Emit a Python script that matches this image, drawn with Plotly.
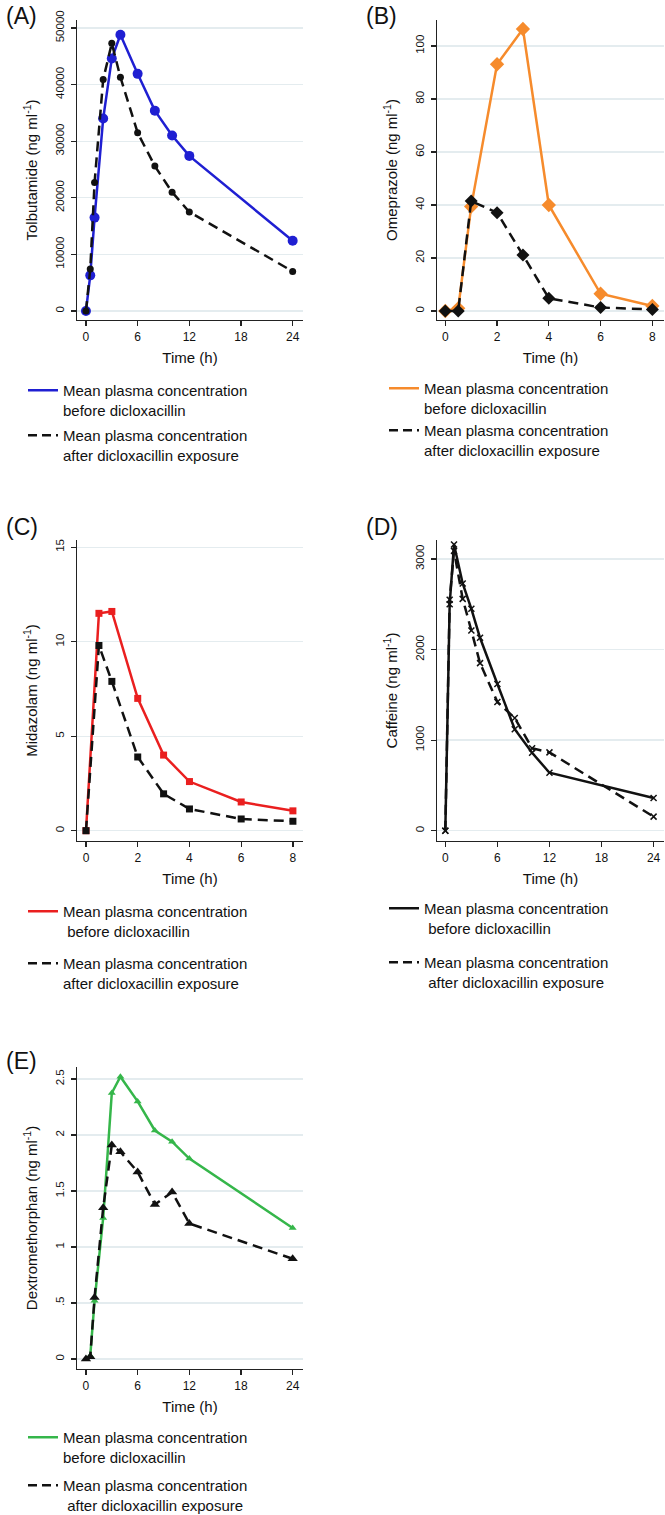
import plotly.graph_objects as go

W, H = 665, 1515

# ---------------- data ----------------
t_A = [0, 0.5, 1, 2, 3, 4, 6, 8, 10, 12, 24]
tolb_before = [0, 6300, 16500, 34000, 44600, 48800, 41900, 35400, 31000, 27400, 12400]
tolb_after = [0, 7400, 22700, 40900, 47300, 41300, 31500, 25600, 21000, 17500, 7000]

t_B = [0, 0.5, 1, 2, 3, 4, 6, 8]
omep_before = [0, 1.0, 39.4, 93.1, 106.4, 40.0, 6.5, 1.9]
omep_after = [0, 0, 41.5, 37.1, 21.1, 4.8, 1.3, 0.6]

t_C = [0, 0.5, 1, 2, 3, 4, 6, 8]
mida_before = [0, 11.5, 11.6, 7.0, 4.0, 2.6, 1.52, 1.05]
mida_after = [0, 9.8, 7.9, 3.9, 1.95, 1.15, 0.62, 0.5]

t_D = [0, 0.5, 1, 2, 3, 4, 6, 8, 10, 12, 24]
caff_before = [0, 2500, 3160, 2730, 2450, 2130, 1620, 1120, 860, 640, 360]
caff_after = [0, 2550, 3090, 2560, 2210, 1850, 1420, 1245, 910, 865, 155]

t_E = [0, 0.5, 1, 2, 3, 4, 6, 8, 10, 12, 24]
dextro_before = [0, 0.03, 0.52, 1.26, 2.375, 2.52, 2.30, 2.04, 1.94, 1.79, 1.17]
dextro_after = [0, 0.02, 0.55, 1.35, 1.91, 1.85, 1.67, 1.38, 1.49, 1.21, 0.895]

ticks_x_24 = [0, 6, 12, 18, 24]
ticks_x_8 = [0, 2, 4, 6, 8]
ticks_y_A = [0, 10000, 20000, 30000, 40000, 50000]
ticktext_y_A = ["0", "10000", "20000", "30000", "40000", "50000"]
ticks_y_B = [0, 20, 40, 60, 80, 100]
ticktext_y_B = ["0", "20", "40", "60", "80", "100"]
ticks_y_C = [0, 5, 10, 15]
ticktext_y_C = ["0", "5", "10", "15"]
ticks_y_D = [0, 1000, 2000, 3000]
ticktext_y_D = ["0", "1000", "2000", "3000"]
ticks_y_E = [0, 0.5, 1, 1.5, 2, 2.5]
ticktext_y_E = ["0", ".5", "1", "1.5", "2", "2.5"]

NBSP = "\u00a0"
FONT = "Liberation Sans, Arial, Helvetica, sans-serif"
DASH = "10px,6px"
INK = "#111111"


def dom_x(a, b):
    return [a / W, b / W]


def dom_y(top, bottom):
    return [1 - bottom / H, 1 - top / H]


panels = [
    dict(label="(A)", lab_xy=(4, 1), t=t_A, before=tolb_before, after=tolb_after,
         color="#1f1fd2", sym="circle", sb=10, sa=7, ytitle="Tolbutamide",
         xdom=(77, 303), ydom=(20, 320), xr=[-1.04, 25.2], yr=[-1590, 51413],
         xt=ticks_x_24, yt=ticks_y_A, ytt=ticktext_y_A,
         leg_xy=(23, 374), gap=3,
         n1="Mean plasma concentration<br>before dicloxacillin",
         n2="Mean plasma concentration<br>after dicloxacillin exposure"),
    dict(label="(B)", lab_xy=(364, 1), t=t_B, before=omep_before, after=omep_after,
         color="#f68b2c", sym="diamond", sb=11, sa=10, ytitle="Omeprazole",
         xdom=(437, 664), ydom=(20, 320), xr=[-0.32, 8.45], yr=[-3.4, 109.8],
         xt=ticks_x_8, yt=ticks_y_B, ytt=ticktext_y_B,
         leg_xy=(384, 372), gap=0,
         n1="Mean plasma concentration<br>before dicloxacillin",
         n2="Mean plasma concentration<br>after dicloxacillin exposure"),
    dict(label="(C)", lab_xy=(4, 512), t=t_C, before=mida_before, after=mida_after,
         color="#ea1f1f", sym="square", sb=7, sa=7, ytitle="Midazolam",
         xdom=(77, 303), ydom=(540, 841), xr=[-0.348, 8.39], yr=[-0.545, 15.38],
         xt=ticks_x_8, yt=ticks_y_C, ytt=ticktext_y_C,
         leg_xy=(23, 895), gap=10,
         n1="Mean plasma concentration<br>" + NBSP + "before dicloxacillin",
         n2="Mean plasma concentration<br>after dicloxacillin exposure"),
    dict(label="(D)", lab_xy=(364, 512), t=t_D, before=caff_before, after=caff_after,
         color=INK, sym="x-thin-open", sb=6, sa=6, ytitle="Caffeine",
         xdom=(437, 664), ydom=(540, 841), xr=[-0.96, 25.2], yr=[-114, 3210],
         xt=ticks_x_24, yt=ticks_y_D, ytt=ticktext_y_D,
         leg_xy=(384, 892), gap=12,
         n1="Mean plasma concentration<br>" + NBSP + "before dicloxacillin",
         n2="Mean plasma concentration<br>" + NBSP + "after dicloxacillin exposure"),
    dict(label="(E)", lab_xy=(4, 1046), t=t_E, before=dextro_before, after=dextro_after,
         color="#35b64a", sym="triangle-up", sb=7, sa=9, ytitle="Dextromethorphan",
         xdom=(77, 303), ydom=(1067, 1369), xr=[-1.04, 25.2], yr=[-0.089, 2.607],
         xt=ticks_x_24, yt=ticks_y_E, ytt=ticktext_y_E,
         leg_xy=(23, 1421), gap=6,
         n1="Mean plasma concentration<br>before dicloxacillin",
         n2="Mean plasma concentration<br>" + NBSP + "after dicloxacillin exposure"),
]

fig = go.Figure()
layout = dict(
    template="none",
    width=W, height=H,
    margin=dict(l=0, r=0, t=0, b=0, pad=0, autoexpand=False),
    paper_bgcolor="white", plot_bgcolor="white",
    font=dict(family=FONT, color=INK),
    showlegend=True,
    annotations=[],
)

for i, p in enumerate(panels):
    n = i + 1
    sfx = "" if n == 1 else str(n)
    xa, ya = "x" + sfx, "y" + sfx
    leg = "legend" + sfx
    is_open = p["sym"].endswith("open")
    mline_b = dict(color=p["color"], width=1.5) if is_open else dict(width=0)
    mline_a = dict(color=INK, width=1.5) if is_open else dict(width=0)
    # before (coloured, solid)
    fig.add_trace(go.Scatter(
        x=p["t"], y=p["before"], mode="lines+markers", xaxis=xa, yaxis=ya,
        line=dict(color=p["color"], width=2.5),
        marker=dict(symbol=p["sym"], size=p["sb"], color=p["color"], line=mline_b),
        showlegend=False, hoverinfo="skip"))
    # after (black, dashed)
    fig.add_trace(go.Scatter(
        x=p["t"], y=p["after"], mode="lines+markers", xaxis=xa, yaxis=ya,
        line=dict(color=INK, width=2.5, dash=DASH),
        marker=dict(symbol=p["sym"], size=p["sa"], color=INK, line=mline_a),
        showlegend=False, hoverinfo="skip"))
    # legend entries (line only)
    fig.add_trace(go.Scatter(
        x=[None], y=[None], mode="lines", xaxis=xa, yaxis=ya,
        line=dict(color=p["color"], width=2.5), name=p["n1"],
        legend=leg, legendgroup="g%d_1" % n, showlegend=True))
    fig.add_trace(go.Scatter(
        x=[None], y=[None], mode="lines", xaxis=xa, yaxis=ya,
        line=dict(color=INK, width=2.5, dash="9px,5px"), name=p["n2"],
        legend=leg, legendgroup="g%d_2" % n, showlegend=True))

    layout["xaxis" + sfx] = dict(
        domain=dom_x(*p["xdom"]), range=p["xr"], anchor=ya, automargin=False,
        tickmode="array", tickvals=p["xt"],
        ticks="outside", ticklen=5, tickwidth=1.2, tickcolor="#222222",
        showline=True, linecolor="#222222", linewidth=1.3,
        showgrid=False, zeroline=False,
        tickfont=dict(size=12, family=FONT, color=INK),
        title=dict(text="Time (h)", font=dict(size=15, family=FONT, color=INK), standoff=9),
    )
    layout["yaxis" + sfx] = dict(
        domain=dom_y(*p["ydom"]), range=p["yr"], anchor=xa, automargin=False,
        tickmode="array", tickvals=p["yt"], ticktext=p["ytt"],
        ticks="outside", ticklen=5, tickwidth=1.2, tickcolor="#222222",
        showline=True, linecolor="#222222", linewidth=1.3,
        showgrid=True, gridcolor="#e4ecef", gridwidth=1.3, zeroline=False,
        tickangle=-90, ticklabelstandoff=2,
        tickfont=dict(size=11.5, family=FONT, color=INK),
        title=dict(text=p["ytitle"] + " (ng ml<sup>-1</sup>)",
                   font=dict(size=15, family=FONT, color=INK), standoff=12),
    )

    lx, ly = p["leg_xy"]
    layout[leg] = dict(
        x=lx / W, y=1 - ly / H, xanchor="left", yanchor="top",
        bgcolor="rgba(0,0,0,0)", borderwidth=0,
        font=dict(size=15, family=FONT, color=INK),
        valign="top", tracegroupgap=p["gap"], traceorder="grouped",
        itemwidth=30,
    )

    lxp, lyp = p["lab_xy"]
    layout["annotations"].append(dict(
        text=p["label"], x=lxp / W, y=1 - lyp / H, xref="paper", yref="paper",
        xanchor="left", yanchor="top", showarrow=False,
        font=dict(size=23, family=FONT, color=INK)))

fig.update_layout(**layout)
fig.write_html(
    "out.html",
    config={"displayModeBar": False, "staticPlot": True},
    post_script="document.body.style.margin='0';document.body.style.overflow='hidden';",
)
